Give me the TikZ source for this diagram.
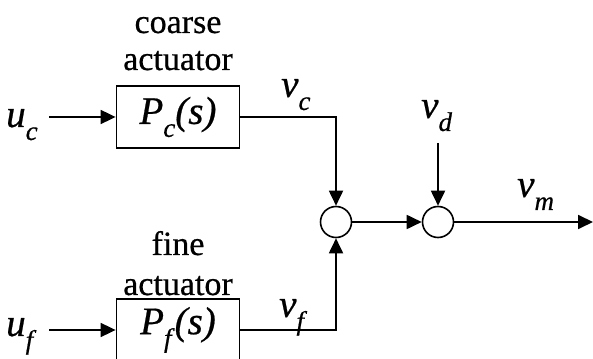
\documentclass[tikz,border=0pt]{standalone}
\usepackage{fontspec}
\setmainfont{Liberation Serif}[FakeBold=0.6]
\usetikzlibrary{arrows.meta}
\newcommand\svar[2]{\textit{#1}\raisebox{-13pt}{\fontsize{27}{30}\selectfont\textit{#2}}}
\tikzset{
  blockbox/.style={draw, line width=1.8pt, minimum width=123pt, minimum height=62pt, inner sep=0pt, font=\fontsize{39}{42}\selectfont},
  sumnode/.style={draw, circle, line width=1.6pt, minimum size=31pt, inner sep=0pt},
  sig/.style={line width=1.8pt, -{Triangle[length=15pt,width=14pt]}},
  lbl/.style={font=\fontsize{34}{36}\selectfont, anchor=base, inner sep=0pt},
  varlbl/.style={font=\fontsize{39}{42}\selectfont, anchor=base west, inner sep=0pt}
}
\begin{document}
\begin{tikzpicture}[x=1pt,y=1pt]
\useasboundingbox (0,0) rectangle (593,358);
% blocks
\node[blockbox] (pc) at (178,241) {\svar{P}{c}\textit{(s)}};
\node[blockbox] (pf) at (178,28) {\svar{P}{f}\textit{(s)}};
\node[sumnode] (s1) at (336,136) {};
\node[sumnode] (s2) at (438,136) {};
% text labels
\node[lbl] (t1) at (178,325) {coarse};
\node[lbl] (t2) at (178,288) {actuator};
\node[lbl] (t3) at (178,103) {fine};
\node[lbl] (t4) at (178,63) {actuator};
\node[varlbl] (uc) at (6,231) {\svar{u}{c}};
\node[varlbl] (uf) at (6,22) {\svar{u}{f}};
\node[varlbl] (vc) at (281,261) {\svar{v}{c}};
\node[varlbl] (vf) at (279,41) {\svar{v}{f}};
\node[varlbl] (vd) at (421,240) {\svar{v}{d}};
\node[varlbl] (vm) at (517,161) {\svar{v}{m}};
% coordinates
\coordinate (ucs) at (49,241);
\coordinate (ufs) at (49,28);
\coordinate (vds) at (438,215);
\coordinate (out) at (593,136);
% connectors
\draw[sig] (ucs) -- (pc.west);
\draw[sig] (ufs) -- (pf.west);
\draw[sig] (pc.east) -| (s1.north);
\draw[sig] (pf.east) -| (s1.south);
\draw[sig] (s1.east) -- (s2.west);
\draw[sig] (vds) -- (s2.north);
\draw[sig] (s2.east) -- (out);
\end{tikzpicture}
\end{document}
